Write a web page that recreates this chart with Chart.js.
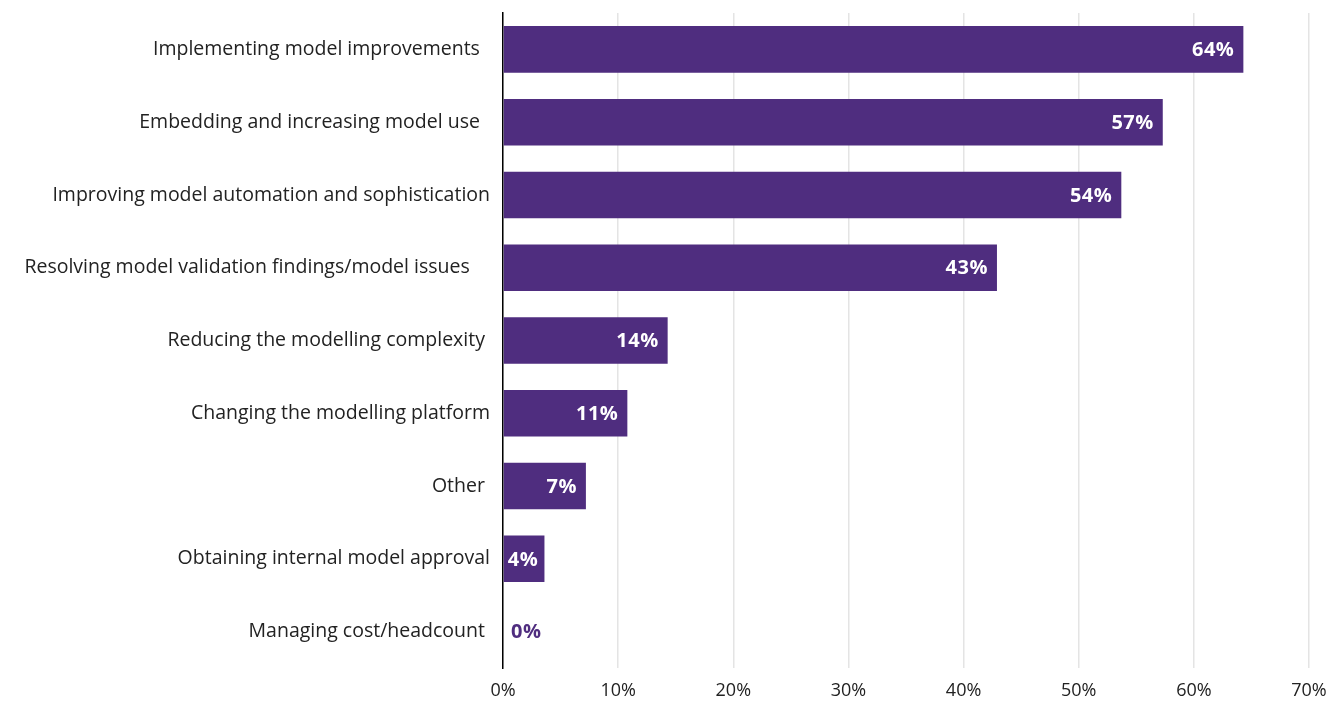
<!DOCTYPE html>
<html>
<head>
<meta charset="utf-8">
<script src="https://cdn.jsdelivr.net/npm/chart.js@4"></script>
<style>
  html, body { margin: 0; padding: 0; background: #fff; }
  #wrap { width: 1342px; height: 706px; }
</style>
</head>
<body>
<div id="wrap"><canvas id="grafico"></canvas></div>
<script>
// Datos
const categorias = [
  'Implementing model improvements  ',
  'Embedding and increasing model use  ',
  'Improving model automation and sophistication',
  'Resolving model validation findings/model issues    ',
  'Reducing the modelling complexity ',
  'Changing the modelling platform',
  'Other ',
  'Obtaining internal model approval',
  'Managing cost/headcount '
];
const valores = [64.3, 57.3, 53.7, 42.9, 14.3, 10.8, 7.2, 3.6, 0];
const ticksX = [0, 10, 20, 30, 40, 50, 60, 70];

const morado = '#4f2d7f';
const fuente = '"Open Sans", sans-serif';

// Etiquetas de valor al final de cada barra
const etiquetas = {
  id: 'etiquetas',
  afterDatasetsDraw(chart) {
    const ctx = chart.ctx;
    const meta = chart.getDatasetMeta(0);
    ctx.save();
    ctx.font = 'bold 20px ' + fuente;
    ctx.letterSpacing = '0.5px';
    ctx.textBaseline = 'middle';
    meta.data.forEach((bar, i) => {
      const txt = Math.round(valores[i]) + '%';
      if (valores[i] < 1) {
        ctx.fillStyle = morado;
        ctx.textAlign = 'left';
        ctx.fillText(txt, bar.base + 8, bar.y + 1);
      } else {
        // si no cabe, se apoya en el inicio de la barra
        const w = ctx.measureText(txt).width;
        ctx.fillStyle = '#fff';
        ctx.textAlign = 'right';
        ctx.fillText(txt, Math.max(bar.x - 9, bar.base + 4 + w), bar.y + 1);
      }
    });
    ctx.restore();
  }
};

const ctx = document.getElementById('grafico').getContext('2d');
new Chart(ctx, {
  type: 'bar',
  data: {
    labels: categorias,
    datasets: [{
      data: valores,
      backgroundColor: morado,
      barPercentage: 0.8,
      categoryPercentage: 0.8
    }]
  },
  options: {
    indexAxis: 'y',
    responsive: true,
    maintainAspectRatio: false,
    animation: false,
    layout: { padding: { top: 13, right: 33, left: 0, bottom: 0 } },
    plugins: {
      legend: { display: false },
      tooltip: { enabled: false }
    },
    scales: {
      x: {
        min: 0,
        max: 70,
        afterBuildTicks: (s) => { s.ticks = ticksX.map(v => ({ value: v })); },
        afterFit: (s) => { s.height = 38; },
        grid: { color: '#e4e4e4', lineWidth: 1.5, drawTicks: false },
        border: { display: false },
        ticks: {
          padding: 12,
          color: '#222',
          font: { family: fuente, size: 18 },
          callback: (v) => v + '%'
        }
      },
      y: {
        afterFit: (s) => { s.width = 503; s.paddingTop = 0; s.paddingBottom = 0; },
        grid: { display: false },
        border: { display: true, color: '#000', width: 1.5 },
        ticks: {
          padding: 5,
          color: '#222',
          font: { family: fuente, size: 19.5 }
        }
      }
    }
  },
  plugins: [etiquetas]
});
</script>
</body>
</html>
